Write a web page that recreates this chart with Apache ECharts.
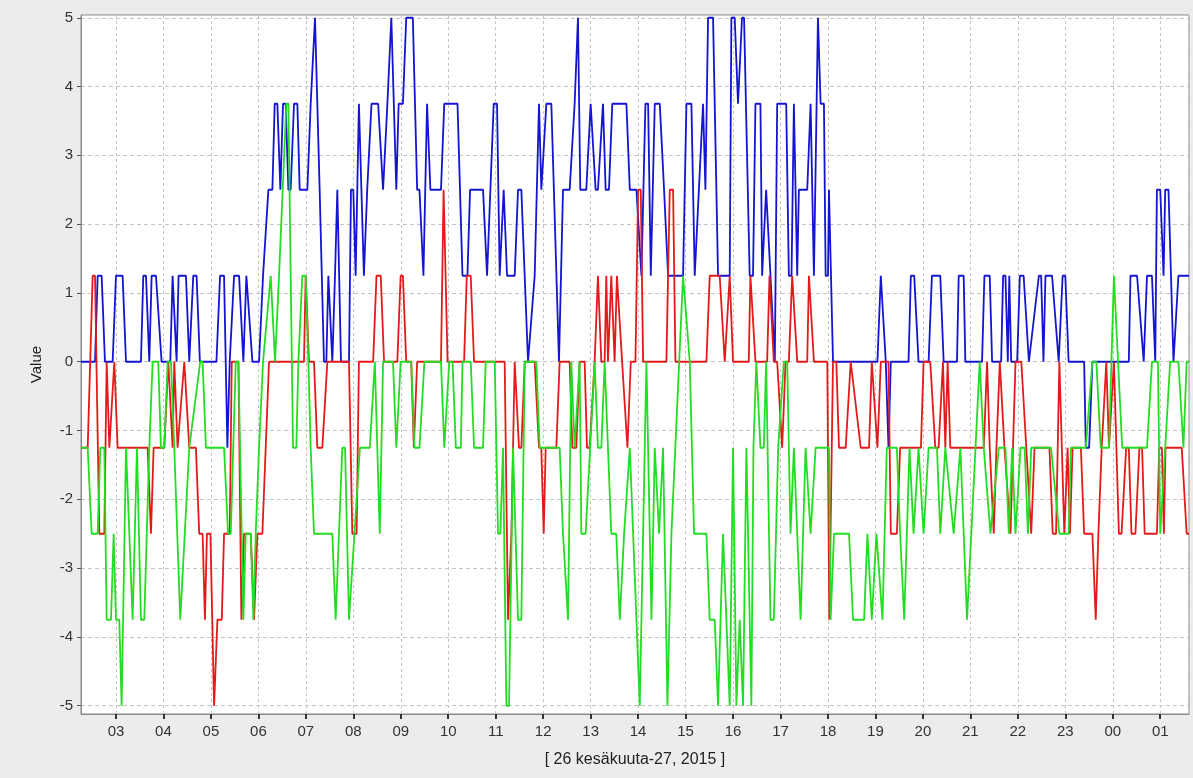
<!DOCTYPE html>
<html>
<head>
<meta charset="utf-8">
<script src="https://cdn.jsdelivr.net/npm/echarts@6/dist/echarts.min.js"></script>
<style>
html,body{margin:0;padding:0;background:#ececec;}
#chart{width:1193px;height:778px;}
</style>
</head>
<body>
<div id="chart"></div>
<script>
// Time is given in hours from 26.6.2015 00:00 (values > 24 are on 27.6.)
const timeStart = 2.263;
const timeEnd = 25.606;
const yTicksMin = -5.12;
const yTicksMax = 5.04;
const xAxisTitle = '[ 26 kesäkuuta-27, 2015 ]';
const yAxisTitle = 'Value';

const blueData = [
[2.263,0],[2.558,0],[2.614,1.25],[2.698,1.25],[2.768,0],[2.930,0],[3.0,1.25],[3.140,1.25],[3.211,0],[3.526,0],[3.575,1.25],[3.632,1.25],[3.702,0],[3.751,1.25],[3.842,1.25],[3.961,0],[4.144,0],[4.193,1.25],[4.228,1.25],[4.277,0],[4.319,1.25],[4.474,1.25],[4.544,0],[4.628,1.25],[4.698,1.25],[4.768,0],
[5.116,0],[5.193,1.25],[5.277,1.25],[5.347,-1.25],[5.396,0],[5.488,1.25],[5.593,1.25],[5.684,0],[5.747,1.25],[5.789,1.25],[5.874,0],[6.014,0],[6.098,1.25],[6.211,2.5],[6.295,2.5],[6.344,3.75],[6.400,3.75],[6.463,2.5],[6.519,3.75],[6.575,3.75],[6.632,2.5],[6.680,2.5],[6.751,3.75],[6.821,3.75],[6.870,2.5],[7.032,2.5],[7.102,3.75],[7.137,3.75],[7.193,5],[7.235,5],[7.291,2.5],[7.382,0],[7.432,0],[7.474,1.25],[7.516,1.25],[7.558,0],[7.614,1.25],[7.663,2.5],[7.740,0],
[7.909,0],[7.951,2.5],[8.0,2.5],[8.049,1.25],[8.118,3.75],[8.223,1.25],[8.293,2.5],[8.328,2.5],[8.383,3.75],[8.523,3.75],[8.627,2.5],[8.662,2.5],[8.718,3.75],[8.801,5],[8.836,5],[8.906,2.5],[8.955,3.75],[9.045,3.75],[9.115,5],[9.254,5],[9.345,2.5],[9.394,2.5],[9.477,1.25],[9.554,3.75],[9.624,2.5],[9.847,2.5],[9.916,3.75],[10.195,3.75],[10.300,1.25],[10.404,1.25],[10.460,2.5],[10.733,2.5],
[10.818,1.25],[10.839,1.25],[10.958,3.75],[11.028,3.75],[11.084,1.25],[11.168,2.5],[11.239,1.25],[11.400,1.25],[11.470,2.5],[11.540,2.5],[11.681,0],[11.716,0],[11.821,1.25],[11.912,3.75],[11.961,2.5],[12.067,3.75],[12.172,3.75],[12.333,0],[12.347,0],[12.418,2.5],[12.558,2.5],[12.663,3.75],[12.733,5],[12.754,5],[12.782,2.5],[12.909,2.5],[13.0,3.75],[13.035,3.75],[13.105,2.5],[13.154,2.5],[13.260,3.75],[13.316,2.5],[13.386,2.5],[13.456,3.75],[13.754,3.75],
[13.825,2.5],[13.965,2.5],[14.070,1.25],[14.154,3.75],[14.211,3.75],[14.267,1.25],[14.295,1.25],[14.351,3.75],[14.456,3.75],[14.547,2.5],[14.632,1.25],[14.947,1.25],[15.018,3.75],[15.123,3.75],[15.193,1.25],[15.228,1.25],[15.368,3.75],[15.418,2.5],[15.474,5],[15.579,5],[15.684,1.25],[15.930,1.25],[15.965,5],[16.035,5],[16.105,3.75],[16.140,3.75],[16.189,5],[16.232,5],[16.351,1.25],[16.421,1.25],
[16.472,3.75],[16.577,3.75],[16.613,1.25],[16.697,2.5],[16.880,0],[16.930,3.75],[17.120,3.75],[17.176,1.25],[17.232,1.25],[17.282,3.75],[17.352,1.25],[17.387,2.5],[17.563,2.5],[17.634,3.75],[17.704,1.25],[17.789,5],[17.845,3.75],[17.915,3.75],[17.951,1.25],[18.0,1.25],[18.021,2.5],[18.106,0],[19.042,0],[19.113,1.25],[19.148,1.25],[19.218,0],
[19.275,-1.25],[19.324,0],[19.697,0],[19.746,1.25],[19.817,1.25],[19.908,0],[20.120,0],[20.190,1.25],[20.366,1.25],[20.437,0],[20.718,0],[20.754,1.25],[20.859,1.25],[20.894,0],[21.246,0],[21.296,1.25],[21.408,1.25],[21.458,0],[21.648,0],[21.690,1.25],[21.739,1.25],[21.789,0],[21.820,1.25],[21.860,0],[21.986,0],
[22.042,1.25],[22.122,1.25],[22.233,0],[22.443,1.25],[22.491,1.25],[22.540,0],[22.582,1.25],[22.721,1.25],[22.861,0],[22.944,1.25],[23.0,1.25],[23.070,0],[23.397,0],[23.432,-1.25],[23.502,-1.25],[23.571,0],[24.338,0],[24.373,1.25],[24.512,1.25],[24.652,0],[24.721,1.25],[24.826,1.25],[24.895,0],[24.930,2.5],[25.0,2.5],[25.070,1.25],[25.105,2.5],[25.174,2.5],[25.279,0],[25.383,1.25],[25.606,1.25]
];

const redData = [
[2.263,-1.25],[2.404,-1.25],[2.509,1.25],[2.558,1.25],[2.649,-2.5],[2.754,-2.5],[2.804,0],[2.860,-1.25],[2.895,-1.25],[2.965,0],[3.035,-1.25],[3.667,-1.25],[3.737,-2.5],[3.793,-1.25],[4.018,-1.25],[4.102,0],[4.144,0],[4.193,-1.25],[4.228,0],[4.298,-1.25],[4.439,0],[4.544,-1.25],[4.684,-1.25],[4.754,-2.5],[4.825,-2.5],[4.874,-3.75],[4.916,-2.5],[4.990,-2.5],
[5.067,-5],[5.137,-3.75],[5.228,-3.75],[5.277,-2.5],[5.396,-2.5],[5.439,0],[5.579,0],[5.642,-3.75],[5.698,-2.5],[5.839,-2.5],[5.909,-3.75],[5.979,-2.5],[6.084,-2.5],[6.225,0],[6.961,0],[6.996,1.25],[7.025,1.25],[7.067,0],[7.172,0],[7.242,-1.25],[7.347,-1.25],[7.453,0],
[7.909,0],[7.979,-2.5],[8.070,-2.5],[8.118,0],[8.418,0],[8.488,1.25],[8.578,1.25],[8.648,0],[8.927,0],[8.997,1.25],[9.045,1.25],[9.115,0],[9.220,0],[9.275,-1.25],[9.303,-1.25],[9.345,0],[9.847,0],[9.902,2.5],[9.937,2.5],[9.986,0],[10.334,0],[10.390,1.25],[10.474,1.25],[10.544,0],
[11.189,0],[11.260,-3.75],[11.330,-2.5],[11.400,0],[11.435,0],[11.491,-1.25],[11.540,-1.25],[11.611,0],[11.821,0],[11.912,-1.25],[11.961,-1.25],[12.011,-2.5],[12.053,-1.25],[12.277,-1.25],[12.347,0],[12.558,0],[12.614,-1.25],[12.698,-1.25],[12.768,0],[12.874,0],[12.923,-1.25],[12.979,-1.25],[13.084,0],[13.154,1.25],[13.225,0],[13.295,0],[13.330,1.25],[13.365,0],[13.435,1.25],[13.505,0],[13.554,1.25],
[13.593,1.25],[13.663,0],[13.775,-1.25],[13.846,0],[13.944,0],[14.0,2.5],[14.056,2.5],[14.105,0],[14.596,0],[14.667,2.5],[14.737,2.5],[14.786,0],[15.439,0],[15.509,1.25],[15.719,1.25],[15.825,0],[15.930,1.25],[16.0,0],[16.331,0],
[16.366,1.25],[16.472,0],[16.718,0],[16.768,1.25],[16.796,1.25],[16.859,0],[16.930,0],[17.035,-1.25],[17.106,0],[17.176,0],[17.246,1.25],[17.282,1.25],[17.352,0],[17.563,0],[17.599,1.25],[17.634,1.25],[17.704,0],[17.986,0],[18.028,-3.75],[18.106,0],[18.176,0],[18.232,-1.25],[18.373,-1.25],[18.479,0],[18.690,-1.25],[18.866,-1.25],[18.923,0],[19.042,-1.25],[19.113,0],[19.218,0],
[19.275,0],[19.324,-2.5],[19.451,-2.5],[19.521,-1.25],[19.958,-1.25],[20.014,0],[20.155,0],[20.261,-1.25],[20.331,-1.25],[20.423,0],[20.472,-1.25],[20.521,0],[20.577,-1.25],[21.282,-1.25],[21.352,0],[21.408,-1.25],[21.493,-2.5],[21.549,-1.25],[21.620,0],[21.648,0],[21.718,-1.25],[21.845,-2.5],[21.880,-2.5],[21.951,0],[22.073,0],
[22.178,-1.25],[22.282,-2.5],[22.352,-1.25],[22.666,-1.25],[22.735,-2.5],[22.805,-2.5],[22.875,0],[22.979,-2.5],[23.049,-1.25],[23.098,-2.5],[23.153,-1.25],[23.328,-1.25],[23.397,-2.5],[23.571,-2.5],[23.641,-3.75],[23.697,-2.5],[23.767,-1.25],[23.864,0],[23.920,-1.25],[24.024,0],[24.129,-2.5],[24.185,-2.5],[24.282,-1.25],[24.338,-1.25],[24.394,-2.5],[24.477,-2.5],[24.561,-1.25],[24.617,-1.25],[24.672,-2.5],[24.930,-2.5],[24.979,-1.25],[25.035,-1.25],[25.077,-2.5],[25.111,-1.25],[25.453,-1.25],[25.557,-2.5],[25.606,-2.5]
];

const greenData = [
[2.263,-1.25],[2.404,-1.25],[2.488,-2.5],[2.614,-2.5],[2.670,-1.25],[2.754,-1.25],[2.804,-3.75],[2.895,-3.75],[2.951,-2.5],[3.0,-3.75],[3.070,-3.75],[3.119,-5],[3.211,-1.25],[3.351,-3.75],[3.442,-1.25],[3.526,-3.75],[3.596,-3.75],[3.702,-1.25],[3.772,0],[3.891,0],[3.947,-1.25],[4.018,-1.25],[4.088,0],[4.158,0],[4.228,-1.25],[4.354,-3.75],[4.544,-1.25],[4.775,0],[4.825,0],[4.895,-1.25],
[5.277,-1.25],[5.361,-2.5],[5.418,-2.5],[5.523,0],[5.579,0],[5.684,-3.75],[5.733,-2.5],[5.839,-2.5],[5.895,-3.75],[5.944,-2.5],[6.014,-1.25],[6.098,0],[6.260,1.25],[6.295,1.25],[6.351,0],[6.435,1.25],[6.470,1.25],[6.589,3.75],[6.632,3.75],[6.730,-1.25],[6.800,-1.25],[6.842,0],[6.926,1.25],[6.996,1.25],[7.053,0],[7.102,-1.25],[7.172,-2.5],[7.432,-2.5],[7.558,-2.5],[7.628,-3.75],[7.768,-1.25],
[7.826,-1.25],[7.909,-3.75],[8.139,-1.25],[8.348,-1.25],[8.453,0],[8.488,0],[8.557,-2.5],[8.627,0],[8.836,0],[8.906,-1.25],[8.941,-1.25],[8.997,0],[9.220,0],[9.289,-1.25],[9.394,-1.25],[9.498,0],[9.847,0],[9.916,-1.25],[9.951,-1.25],[10.021,0],[10.091,0],[10.160,-1.25],[10.265,-1.25],[10.300,0],[10.474,0],[10.544,-1.25],[10.733,-1.25],
[10.789,0],[10.979,0],[11.049,-2.5],[11.098,-2.5],[11.154,-1.25],[11.225,-5],[11.281,-5],[11.365,-1.25],[11.470,-3.75],[11.540,-3.75],[11.611,0],[11.856,0],[11.926,-1.25],[12.347,-1.25],[12.418,-2.5],[12.523,-3.75],[12.593,0],[12.663,-1.25],[12.768,0],[12.804,-2.5],[12.895,-2.5],[13.084,0],[13.154,-1.25],[13.225,-1.25],[13.295,0],[13.435,-2.5],[13.540,-2.5],
[13.614,-3.75],[13.705,-2.5],[13.825,-1.25],[13.860,-1.25],[14.035,-5],[14.175,0],[14.281,-3.75],[14.351,-1.25],[14.442,-2.5],[14.526,-1.25],[14.618,-5],[14.702,-2.5],[14.947,1.25],[14.982,1.25],[15.088,0],[15.179,-2.5],[15.439,-2.5],[15.509,-3.75],[15.614,-3.75],[15.684,-5],[15.789,-2.5],[15.825,-2.5],[15.930,-5],[16.0,-1.25],[16.070,-5],[16.140,-3.75],[16.211,-5],[16.281,-1.25],[16.386,-5],
[16.430,-1.25],[16.490,0],[16.577,-1.25],[16.648,-1.25],[16.697,0],[16.789,-3.75],[16.859,-3.75],[16.951,-1.25],[17.070,0],[17.141,0],[17.211,-2.5],[17.282,-1.25],[17.423,-3.75],[17.528,-1.25],[17.634,-2.5],[17.739,-1.25],[18.021,-1.25],[18.056,-3.75],[18.127,-2.5],[18.444,-2.5],[18.528,-3.75],[18.761,-3.75],[18.831,-2.5],[18.923,-3.75],[19.021,-2.5],[19.063,-2.5],[19.148,-3.75],
[19.239,-1.25],[19.451,-1.25],[19.521,-2.5],[19.606,-3.75],[19.718,-1.25],[19.803,-2.5],[19.908,-1.25],[20.014,-2.5],[20.120,-1.25],[20.296,-1.25],[20.366,-2.5],[20.472,-1.25],[20.648,-2.5],[20.789,-1.25],[20.930,-3.75],[21.197,0],[21.282,-1.25],[21.423,-2.5],[21.599,-1.25],[21.739,-1.25],[21.810,-2.5],[21.880,-1.25],[21.951,-2.5],[22.056,-1.25],
[22.143,-1.25],[22.213,-2.5],[22.282,-1.25],[22.700,-1.25],[22.875,-2.5],[22.944,-2.5],[23.070,-2.5],[23.118,-1.25],[23.362,-1.25],[23.432,-1.25],[23.571,0],[23.655,0],[23.746,-1.25],[23.920,-1.25],[24.024,1.25],[24.059,1.25],[24.199,-1.25],[24.721,-1.25],[24.826,0],[24.951,0],[25.0,-2.5],[25.105,-1.25],[25.209,0],[25.383,0],[25.488,-1.25],[25.557,0],[25.606,0]
];

const seriesNames = ['Sarja 1', 'Sarja 2', 'Sarja 3'];
const seriesColors = ['#1414d2', '#e41a1a', '#22dd22'];

function hourLabel(v) {
  const h = Math.round(v) % 24;
  return (h < 10 ? '0' : '') + h;
}

const chart = echarts.init(document.getElementById('chart'), null, {renderer: 'canvas'});
const font = '"Liberation Sans", Arial, sans-serif';
chart.setOption({
  backgroundColor: '#ececec',
  animation: false,
  grid: {
    left: 81, right: 4, top: 15, bottom: 64,
    show: true, backgroundColor: '#ffffff', borderColor: '#8a8a8a', borderWidth: 1
  },
  xAxis: {
    type: 'value',
    min: timeStart, max: timeEnd,
    minInterval: 1, maxInterval: 1, splitNumber: 23,
    name: xAxisTitle, nameLocation: 'middle', nameGap: 38,
    nameTextStyle: {fontFamily: font, fontSize: 16, color: '#222'},
    axisLine: {show: true, onZero: false, lineStyle: {color: '#8a8a8a', width: 1}},
    axisTick: {show: true, inside: false, length: 5, lineStyle: {color: '#333', width: 2}},
    axisLabel: {fontFamily: font, fontSize: 15, color: '#333', margin: 10,
      showMinLabel: false, showMaxLabel: false, formatter: hourLabel},
    splitLine: {show: true, lineStyle: {color: '#c4c4c4', type: [3, 3], width: 1}}
  },
  yAxis: {
    type: 'value',
    min: yTicksMin, max: yTicksMax,
    minInterval: 1, maxInterval: 1, splitNumber: 10,
    name: yAxisTitle, nameLocation: 'middle', nameGap: 37, nameRotate: 90,
    nameTextStyle: {fontFamily: font, fontSize: 15, color: '#222'},
    axisLine: {show: true, onZero: false, lineStyle: {color: '#8a8a8a', width: 1}},
    axisTick: {show: true, length: 4, lineStyle: {color: '#555'}},
    axisLabel: {fontFamily: font, fontSize: 15, color: '#333', margin: 8,
      showMinLabel: false, showMaxLabel: false},
    splitLine: {show: true, lineStyle: {color: '#c4c4c4', type: [4, 3], width: 1}}
  },
  series: [blueData, redData, greenData].map((d, i) => ({
    name: seriesNames[i],
    type: 'line',
    data: d,
    showSymbol: false,
    smooth: false,
    lineStyle: {color: seriesColors[i], width: 1.8},
    itemStyle: {color: seriesColors[i]},
    z: 2 + i
  }))
});
</script>
</body>
</html>
